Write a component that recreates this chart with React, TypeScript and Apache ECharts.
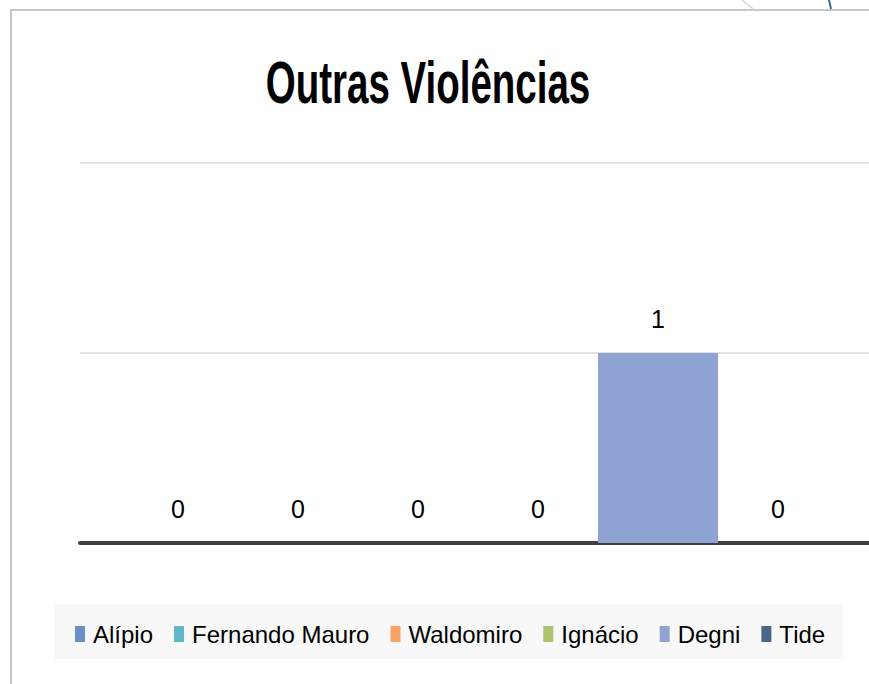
import React, { useEffect, useRef } from "react";
import * as echarts from "echarts";

const chartTitle = "Outras Violências";
const categories = ["Outras Violências"];
const seriesNames = ["Alípio", "Fernando Mauro", "Waldomiro", "Ignácio", "Degni", "Tide"];
const seriesValues = [0, 0, 0, 0, 1, 0];
const seriesColors = ["#6a8fc9", "#62b6cb", "#f9a463", "#a8c46c", "#8fa4d4", "#4b6689"];
const yTicks = { min: 0, max: 2, interval: 1 };

const FONT = "'Liberation Sans', Arial, sans-serif";

export default function App() {
  const ref = useRef<HTMLDivElement>(null);
  useEffect(() => {
    if (!ref.current) return;
    const chart = echarts.init(ref.current, null, { renderer: "svg" });
    chart.setOption({
      animation: false,
      backgroundColor: "#ffffff",
      grid: { left: 80, top: 163, right: 1, height: 380, containLabel: false },
      xAxis: {
        type: "category",
        data: categories,
        axisLine: { show: true, lineStyle: { color: "#404040", width: 4 } },
        axisTick: { show: false },
        axisLabel: { show: false },
      },
      yAxis: {
        type: "value",
        min: yTicks.min,
        max: yTicks.max,
        interval: yTicks.interval,
        axisLine: { show: false },
        axisTick: { show: false },
        axisLabel: { show: false },
        splitLine: { lineStyle: { color: "#e4e4e4", width: 2 } },
      },
      legend: {
        left: 54,
        top: 604,
        padding: [18, 18, 13, 21],
        backgroundColor: "#f8f8f8",
        itemWidth: 10,
        itemHeight: 16,
        itemGap: 21,
        icon: "rect",
        textStyle: { fontFamily: FONT, fontSize: 24, color: "#000", padding: [0, 0, 0, 3] },
        data: seriesNames,
      },
      graphic: [
        { type: "line", shape: { x1: 10, y1: 10, x2: 877, y2: 10 }, style: { stroke: "#c8c8c8", lineWidth: 2 } },
        { type: "line", shape: { x1: 11, y1: 10, x2: 11, y2: 684 }, style: { stroke: "#c8c8c8", lineWidth: 2 } },
        { type: "line", shape: { x1: 742, y1: 0, x2: 753, y2: 9 }, style: { stroke: "#dcdcdc", lineWidth: 2 } },
        { type: "line", shape: { x1: 829, y1: 0, x2: 831, y2: 9 }, style: { stroke: "#2e6f8e", lineWidth: 2 } },
        {
          type: "text",
          x: 428,
          y: 83,
          scaleX: 0.7,
          scaleY: 1.07,
          style: {
            text: chartTitle,
            fontFamily: FONT,
            fontWeight: "bold",
            fontSize: 55,
            fill: "#000",
            align: "center",
            verticalAlign: "middle",
          },
        },
      ],
      series: seriesNames.map((name, i) => ({
        name,
        type: "bar",
        data: [seriesValues[i]],
        barWidth: 120,
        barGap: "0%",
        itemStyle: { color: seriesColors[i] },
        label: {
          show: true,
          position: "top",
          distance: 22,
          fontFamily: FONT,
          fontSize: 25,
          color: "#000",
        },
      })),
    });
    return () => chart.dispose();
  }, []);
  return <div ref={ref} style={{ position: "fixed", left: 0, top: 0, width: 877, height: 684 }} />;
}
